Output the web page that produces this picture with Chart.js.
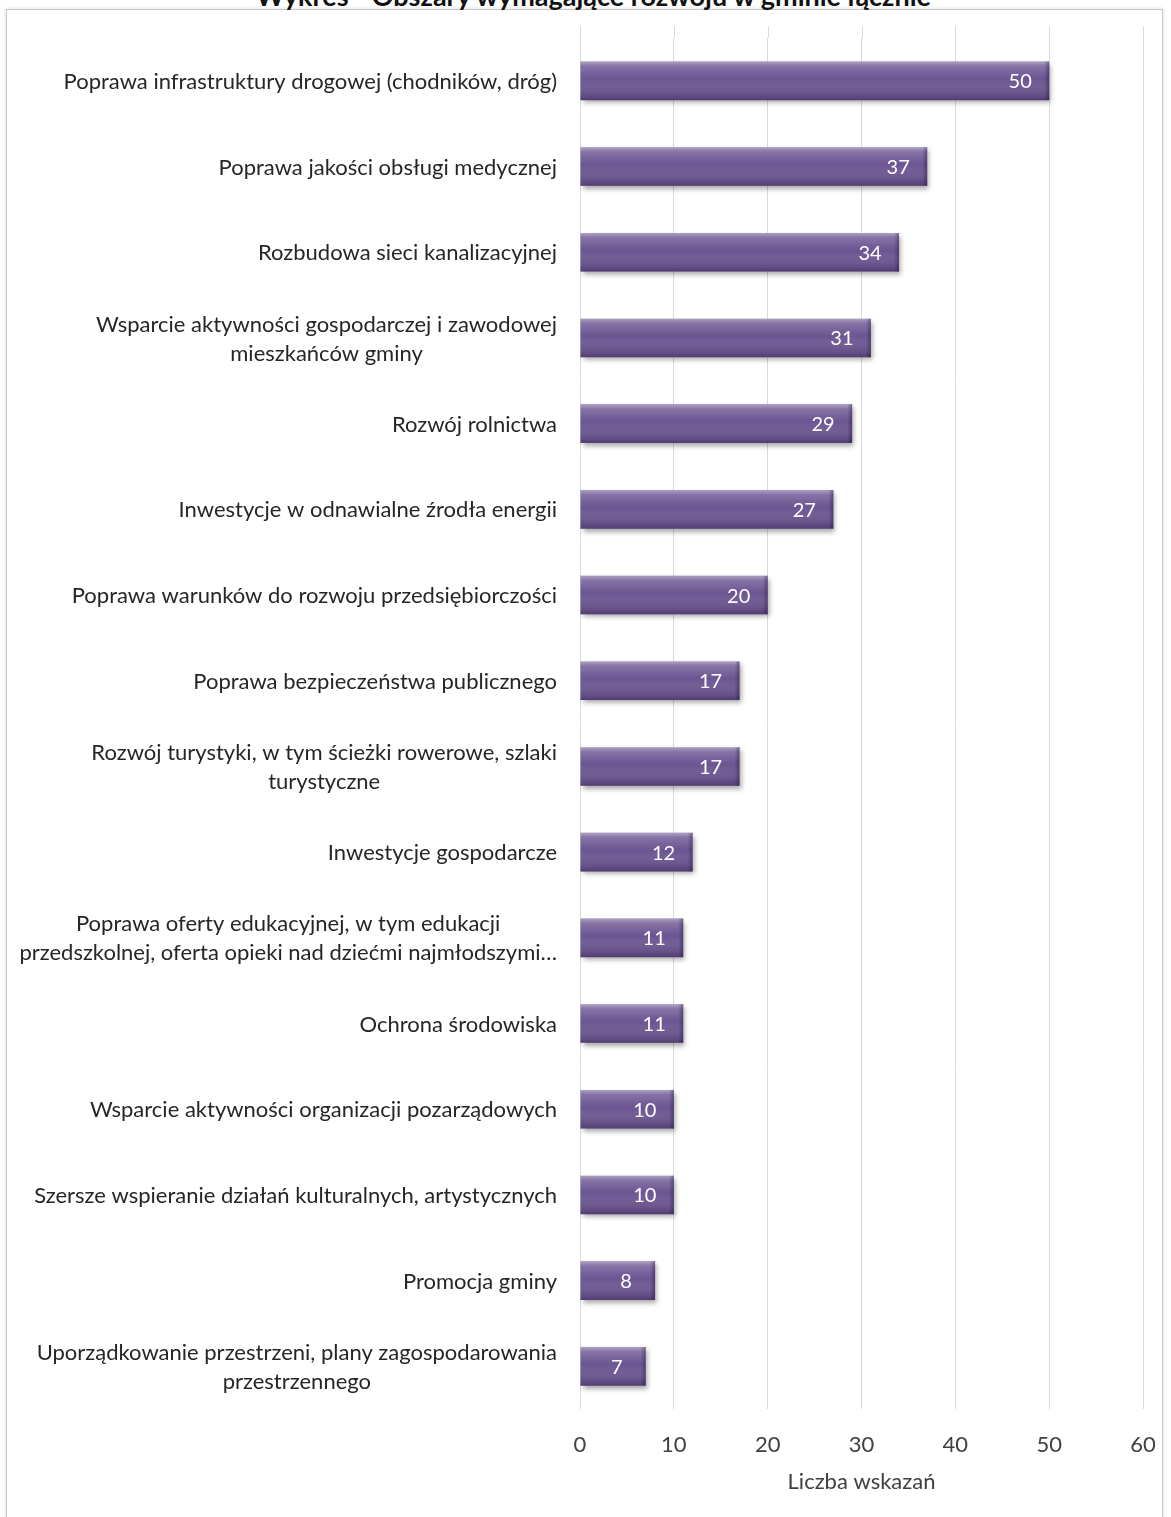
<!DOCTYPE html>
<html>
<head>
<meta charset="utf-8">
<script src="https://cdn.jsdelivr.net/npm/chart.js@4/dist/chart.umd.min.js"></script>
<style>
  html, body { margin: 0; padding: 0; background: #fff; }
  #wrap { position: relative; width: 1171px; height: 1517px; overflow: hidden; }
  #frame { position: absolute; left: 6px; top: 9px; width: 1155px; height: 1520px;
           border: 1px solid #c8c8c8; box-shadow: 0 0 4px rgba(0,0,0,0.15); background: #fff; }
  #title { position: absolute; left: 8px; width: 1171px; top: -20px; text-align: center;
           font: bold 27px Lato, sans-serif; color: #111; white-space: nowrap; line-height: 32px; }
  #myChart { position: absolute; left: 0; top: 0; }
</style>
</head>
<body>
<div id="wrap">
  <div id="frame"></div>
  <div id="title">Wykres - Obszary wymagające rozwoju w gminie łącznie</div>
  <canvas id="myChart" width="1171" height="1517"></canvas>
</div>
<script>
let labels = [
    ['Poprawa infrastruktury drogowej (chodników, dróg)'],
    ['Poprawa jakości obsługi medycznej'],
    ['Rozbudowa sieci kanalizacyjnej'],
    ['Wsparcie aktywności gospodarczej i zawodowej', 'mieszkańców gminy'],
    ['Rozwój rolnictwa'],
    ['Inwestycje w odnawialne źrodła energii'],
    ['Poprawa warunków do rozwoju przedsiębiorczości'],
    ['Poprawa bezpieczeństwa publicznego'],
    ['Rozwój turystyki, w tym ścieżki rowerowe, szlaki', 'turystyczne'],
    ['Inwestycje gospodarcze'],
    ['Poprawa oferty edukacyjnej, w tym edukacji', 'przedszkolnej, oferta opieki nad dziećmi najmłodszymi…'],
    ['Ochrona środowiska'],
    ['Wsparcie aktywności organizacji pozarządowych'],
    ['Szersze wspieranie działań kulturalnych, artystycznych'],
    ['Promocja gminy'],
    ['Uporządkowanie przestrzeni, plany zagospodarowania', 'przestrzennego']
]
let values = [50, 37, 34, 31, 29, 27, 20, 17, 17, 12, 11, 11, 10, 10, 8, 7]
let xTicks = [0, 10, 20, 30, 40, 50, 60]
let xTitle = 'Liczba wskazań'

const FONT = 'Lato, sans-serif'

// gridlines in the original reach a bit above the first category band
const gridExtend = {
    id: 'gridExtend',
    beforeDatasetsDraw(chart) {
        const c = chart.ctx
        const x = chart.scales.x
        c.save()
        c.strokeStyle = '#d9d9d9'
        c.lineWidth = 1
        xTicks.forEach(v => {
            const px = Math.round(x.getPixelForValue(v)) + 0.5
            c.beginPath()
            c.moveTo(px, 26)
            c.lineTo(px, chart.chartArea.top)
            c.stroke()
        })
        c.restore()
    }
}

// shadow under bars, gloss overlay and white value labels
const barStyle = {
    id: 'barStyle',
    beforeDatasetsDraw(chart) {
        const c = chart.ctx
        c.save()
        c.shadowColor = 'rgba(0,0,0,0.35)'
        c.shadowBlur = 5
        c.shadowOffsetX = 2
        c.shadowOffsetY = 3
    },
    afterDatasetsDraw(chart) {
        const c = chart.ctx
        c.restore()
        const meta = chart.getDatasetMeta(0)
        meta.data.forEach((bar, i) => {
            const top = bar.y - bar.height / 2
            const left = bar.base
            const w = bar.x - bar.base
            const h = bar.height
            const g = c.createLinearGradient(0, top, 0, top + h)
            g.addColorStop(0, 'rgba(255,255,255,0.45)')
            g.addColorStop(0.12, 'rgba(255,255,255,0.18)')
            g.addColorStop(0.45, 'rgba(255,255,255,0)')
            g.addColorStop(1, 'rgba(20,0,40,0.30)')
            c.fillStyle = g
            c.fillRect(left, top, w, h)
            // bevel at the bar end
            const gr = c.createLinearGradient(bar.x - 5, 0, bar.x, 0)
            gr.addColorStop(0, 'rgba(20,0,40,0)')
            gr.addColorStop(1, 'rgba(20,0,40,0.35)')
            c.fillStyle = gr
            c.fillRect(bar.x - 5, top, 5, h)

            c.fillStyle = '#ffffff'
            c.font = '20px ' + FONT
            c.textAlign = 'center'
            c.textBaseline = 'middle'
            c.fillText(String(values[i]), bar.x - 29, bar.y + 1)
        })
    }
}

// category labels: each label block right-aligned, lines centred within it
const catLabels = {
    id: 'catLabels',
    afterDraw(chart) {
        const c = chart.ctx
        const y = chart.scales.y
        const rightEdge = 557
        const lineH = 29
        c.save()
        c.font = '22px ' + FONT
        c.fillStyle = '#262626'
        c.textAlign = 'center'
        c.textBaseline = 'middle'
        labels.forEach((lines, i) => {
            const w = Math.max(...lines.map(l => c.measureText(l).width))
            const cx = rightEdge - w / 2
            const cy = y.getPixelForValue(i)
            const start = cy - (lines.length - 1) * lineH / 2 + 1
            lines.forEach((l, k) => c.fillText(l, cx, start + k * lineH))
        })
        c.restore()
    }
}

const ctx = document.getElementById('myChart').getContext('2d')
const myChart = new Chart(ctx, {
    type: 'bar',
    data: {
        labels: labels,
        datasets: [{
            data: values,
            backgroundColor: '#6b5592',
            borderWidth: 0,
            categoryPercentage: 1,
            barPercentage: 0.45
        }]
    },
    options: {
        indexAxis: 'y',
        responsive: false,
        animation: false,
        layout: { padding: { left: 580, right: 28, top: 38, bottom: 22 } },
        plugins: {
            legend: { display: false },
            tooltip: { enabled: false }
        },
        scales: {
            x: {
                min: xTicks[0],
                max: xTicks[xTicks.length - 1],
                afterBuildTicks: (scale) => { scale.ticks = xTicks.map(v => ({ value: v })) },
                afterFit: (scale) => { scale.paddingLeft = 0; scale.paddingRight = 0 },
                grid: { color: '#d9d9d9', lineWidth: 1, drawTicks: false },
                border: { display: false },
                ticks: { padding: 23, color: '#404040', font: { family: FONT, size: 22 } },
                title: {
                    display: true,
                    text: xTitle,
                    color: '#404040',
                    padding: { top: -13, bottom: 0 },
                    font: { family: FONT, size: 22 }
                }
            },
            y: {
                display: false
            }
        }
    },
    plugins: [gridExtend, barStyle, catLabels]
})
</script>
</body>
</html>
